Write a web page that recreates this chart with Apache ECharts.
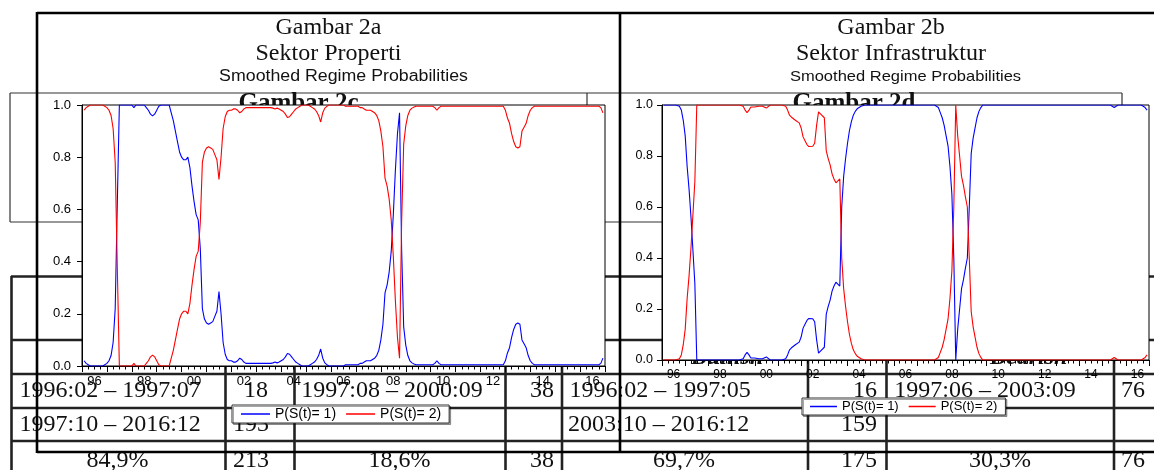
<!DOCTYPE html>
<html><head><meta charset="utf-8">
<script src="https://cdn.jsdelivr.net/npm/echarts@6/dist/echarts.min.js"></script>
<style>html,body{margin:0;padding:0;background:#fff}#c{width:1154px;height:470px}</style>
</head><body><div id="c"></div>
<script>
// ---------------- DATA ----------------
const startYear = 1996, startMonth = 2;           // first observation 1996:02, monthly to 2016:12
const seriesNames = ['P(S(t)= 1)', 'P(S(t)= 2)'];
const panelTitles = [['Gambar 2a', 'Sektor Properti'], ['Gambar 2b', 'Sektor Infrastruktur']];
const subTitle = 'Smoothed Regime Probabilities';
const hiddenBoxTitles = ['Gambar 2c', 'Gambar 2d'];
const hiddenHeaders = ['Bullish', 'Bearish'];
const yearLabelEvery = 2;

// Sektor Properti (Gambar 2a)
const propP1 = [
 0.02,0.01,0.005,0,0,0,0,0,0,0,0.005,
 0.01,0.02,0.04,0.09,0.22,0.62,1,1,1,1,1,1,
 1,0.99,1,1,1,1,1,0.99,0.98,0.965,0.958,0.965,
 0.98,0.995,1,1,1,1,1,0.97,0.94,0.9,0.86,0.82,
 0.8,0.79,0.79,0.8,0.76,0.69,0.63,0.58,0.56,0.45,0.22,0.18,
 0.165,0.16,0.165,0.17,0.19,0.21,0.285,0.2,0.09,0.045,0.025,0.02,
 0.02,0.015,0.015,0.02,0.03,0.025,0.015,0.01,0.01,0.01,0.01,0.01,
 0.01,0.01,0.01,0.01,0.01,0.01,0.01,0.01,0.012,0.015,0.012,0.015,
 0.02,0.025,0.035,0.048,0.045,0.035,0.025,0.015,0.01,0.005,0,0,
 0,0,0.005,0.01,0.015,0.025,0.04,0.065,0.03,0.012,0.005,0,
 0,0,0,0,0,0,0,0.005,0.005,0.005,0.005,0.005,
 0.005,0.005,0.01,0.01,0.015,0.02,0.02,0.02,0.025,0.03,0.04,0.06,
 0.1,0.16,0.28,0.31,0.36,0.44,0.58,0.75,0.89,0.97,0.45,0.15,
 0.08,0.04,0.02,0.012,0.008,0.005,0.005,0.005,0.005,0.005,0.005,0.005,
 0.005,0.005,0.01,0.02,0.01,0.005,0.005,0.005,0.005,0.005,0.005,0.005,
 0.005,0.005,0.005,0.005,0.005,0.005,0.005,0.005,0.005,0.005,0.005,0.005,
 0.005,0.005,0.005,0.005,0.005,0.005,0.005,0.005,0.005,0.005,0.005,0.005,
 0.02,0.05,0.07,0.11,0.14,0.16,0.165,0.16,0.1,0.085,0.07,0.04,
 0.02,0.01,0.005,0.005,0.005,0.005,0.005,0.005,0.005,0.005,0.005,0.005,
 0.005,0.005,0.005,0.005,0.005,0.005,0.005,0.005,0.005,0.005,0.005,0.005,
 0.005,0.005,0.005,0.005,0.005,0.005,0.005,0.005,0.005,0.005,0.01,0.03
];
const propP2 = [
 0.98,0.99,0.995,1,1,1,1,1,1,1,0.995,
 0.99,0.98,0.96,0.91,0.78,0.38,0,0,0,0,0,0,
 0,0.01,0,0,0,0,0,0.01,0.02,0.035,0.042,0.035,
 0.02,0.005,0,0,0,0,0,0.03,0.06,0.1,0.14,0.18,
 0.2,0.21,0.21,0.2,0.24,0.31,0.37,0.42,0.44,0.55,0.78,0.82,
 0.835,0.84,0.835,0.83,0.81,0.79,0.715,0.8,0.91,0.955,0.975,0.98,
 0.98,0.985,0.985,0.98,0.97,0.975,0.985,0.99,0.99,0.99,0.99,0.99,
 0.99,0.99,0.99,0.99,0.99,0.99,0.99,0.99,0.988,0.985,0.988,0.985,
 0.98,0.975,0.965,0.952,0.955,0.965,0.975,0.985,0.99,0.995,1,1,
 1,1,0.995,0.99,0.985,0.975,0.96,0.935,0.97,0.988,0.995,1,
 1,1,1,1,1,1,1,0.995,0.995,0.995,0.995,0.995,
 0.995,0.995,0.99,0.99,0.985,0.98,0.98,0.98,0.975,0.97,0.96,0.94,
 0.9,0.84,0.72,0.69,0.64,0.56,0.42,0.25,0.11,0.03,0.55,0.85,
 0.92,0.96,0.98,0.988,0.992,0.995,0.995,0.995,0.995,0.995,0.995,0.995,
 0.995,0.995,0.99,0.98,0.99,0.995,0.995,0.995,0.995,0.995,0.995,0.995,
 0.995,0.995,0.995,0.995,0.995,0.995,0.995,0.995,0.995,0.995,0.995,0.995,
 0.995,0.995,0.995,0.995,0.995,0.995,0.995,0.995,0.995,0.995,0.995,0.995,
 0.98,0.95,0.93,0.89,0.86,0.84,0.835,0.84,0.9,0.915,0.93,0.96,
 0.98,0.99,0.995,0.995,0.995,0.995,0.995,0.995,0.995,0.995,0.995,0.995,
 0.995,0.995,0.995,0.995,0.995,0.995,0.995,0.995,0.995,0.995,0.995,0.995,
 0.995,0.995,0.995,0.995,0.995,0.995,0.995,0.995,0.995,0.995,0.99,0.97
];
// Sektor Infrastruktur (Gambar 2b)
const infraP1 = [
 1,1,1,1,1,1,1,1,0.995,0.98,0.94,
 0.88,0.76,0.67,0.56,0.43,0.3,0,0,0,0,0,0,
 0,0,0,0,0,0,0,0,0,0,0,0,
 0,0,0,0,0,0,0.005,0.02,0.03,0.02,0.008,0.005,
 0.008,0.012,0.005,0.002,0.005,0.01,0.012,0.005,0,0,0,0,
 0,0,0,0,0.005,0.02,0.04,0.048,0.052,0.06,0.067,0.07,
 0.09,0.125,0.14,0.155,0.163,0.165,0.162,0.15,0.08,0.027,0.035,0.042,
 0.05,0.18,0.21,0.235,0.27,0.29,0.305,0.31,0.29,0.6,0.72,0.79,
 0.85,0.9,0.935,0.96,0.975,0.985,0.99,0.995,1,1,1,1,
 1,1,0.995,1,1,1,1,1,1,1,1,1,
 1,1,1,1,1,1,1,1,1,1,1,1,
 1,1,1,1,1,1,1,1,1,1,0.995,0.99,
 0.97,0.95,0.92,0.88,0.84,0.76,0.65,0.4,0,0.12,0.2,0.28,
 0.315,0.36,0.4,0.6,0.81,0.87,0.91,0.95,0.975,0.99,1,1,
 1,1,1,1,1,1,1,1,1,1,1,1,
 1,1,1,1,1,1,1,1,1,1,1,1,
 1,1,1,1,1,1,1,1,1,1,1,1,
 1,1,1,1,1,1,1,1,1,1,1,1,
 1,1,1,1,1,1,1,1,1,1,1,1,
 1,1,1,1,1,0.995,0.99,0.995,1,1,1,1,
 1,1,1,1,1,1,1,1,1,1,0.99,0.98
];
const infraP2 = [
 0,0,0,0,0,0,0,0,0.005,0.02,0.06,
 0.12,0.24,0.33,0.44,0.57,0.7,1,1,1,1,1,1,
 1,1,1,1,1,1,1,1,1,1,1,1,
 1,1,1,1,1,1,0.995,0.98,0.97,0.98,0.992,0.995,
 0.992,0.988,0.995,0.998,0.995,0.99,0.988,0.995,1,1,1,1,
 1,1,1,1,0.995,0.98,0.96,0.952,0.948,0.94,0.933,0.93,
 0.91,0.875,0.86,0.845,0.837,0.835,0.838,0.85,0.92,0.973,0.965,0.958,
 0.95,0.82,0.79,0.765,0.73,0.71,0.695,0.69,0.71,0.4,0.28,0.21,
 0.15,0.1,0.065,0.04,0.025,0.015,0.01,0.005,0,0,0,0,
 0,0,0.005,0,0,0,0,0,0,0,0,0,
 0,0,0,0,0,0,0,0,0,0,0,0,
 0,0,0,0,0,0,0,0,0,0,0.005,0.01,
 0.03,0.05,0.08,0.12,0.16,0.24,0.35,0.6,1,0.88,0.8,0.72,
 0.685,0.64,0.6,0.4,0.19,0.13,0.09,0.05,0.025,0.01,0,0,
 0,0,0,0,0,0,0,0,0,0,0,0,
 0,0,0,0,0,0,0,0,0,0,0,0,
 0,0,0,0,0,0,0,0,0,0,0,0,
 0,0,0,0,0,0,0,0,0,0,0,0,
 0,0,0,0,0,0,0,0,0,0,0,0,
 0,0,0,0,0,0.005,0.01,0.005,0,0,0,0,
 0,0,0,0,0,0,0,0,0,0,0.01,0.02
];
// Table behind the graphs
const tableRow1 = ['1996:02 \u2013 1997:07', '18', '1997:08 \u2013 2000:09', '38', '1996:02 \u2013 1997:05', '16', '1997:06 \u2013 2003:09', '76'];
const tableRow2 = ['1997:10 \u2013 2016:12', '193', '2003:10 \u2013 2016:12', '159'];
const tableRow3 = ['84,9%', '213', '18,6%', '38', '69,7%', '175', '30,3%', '76'];

// ---------------- CHART ----------------
const SERIF = '"Liberation Serif", "Times New Roman", serif';
const SANS = '"Liberation Sans", Arial, sans-serif';
function pairs(vals) { return vals.map((v, i) => [startYear + (startMonth - 1 + i) / 12, v]); }

const g = [];
const Z_BG = -10;
function line(x1, y1, x2, y2, w, c, z) {
  g.push({ type: 'line', shape: { x1, y1, x2, y2 }, style: { stroke: c, lineWidth: w }, z: z });
}
function text(t, x, y, font, align, z, extra) {
  g.push(Object.assign({ type: 'text', x, y, z: z,
    style: { text: t, font: font, fill: '#111', textAlign: align, align: align, textVerticalAlign: 'middle', verticalAlign: 'middle' } }, extra || {}));
}
// table lines (behind plots)
const TL = '#222';
[276.5, 340, 374, 408, 441].forEach(y => line(11, y, 1154, y, 2.6, TL, Z_BG));
[11.5, 225.5, 294.5, 505.5, 562, 808, 886.5, 1114].forEach(x => line(x, 276, x, 470, 2.6, TL, Z_BG));
// hidden "Gambar 2c / 2d" boxes
line(10, 93, 1122, 93, 1.2, '#333', Z_BG);
line(10, 93, 10, 222, 1.2, '#333', Z_BG);
line(587, 93, 587, 130, 1.2, '#333', Z_BG);
line(1122, 93, 1122, 130, 1.2, '#333', Z_BG);
line(10, 222, 100, 222, 1.2, '#333', Z_BG);
line(598, 222, 680, 222, 1.2, '#333', Z_BG);
text(hiddenBoxTitles[0], 298.5, 104, 'bold 25px ' + SERIF, 'center', Z_BG);
text(hiddenBoxTitles[1], 854, 104, 'bold 25px ' + SERIF, 'center', Z_BG);
text(hiddenHeaders[0], 691, 358, 'italic bold 24px ' + SERIF, 'left', Z_BG);
text(hiddenHeaders[1], 990, 358, 'italic bold 24px ' + SERIF, 'left', Z_BG);
// table text
const TF = '24px ' + SERIF;
const r1 = 391, r2 = 425, r3 = 461;
text(tableRow1[0], 19.5, r1, TF, 'left', Z_BG);
text(tableRow1[1], 268, r1, TF, 'right', Z_BG);
text(tableRow1[2], 392, r1, TF, 'center', Z_BG);
text(tableRow1[3], 554, r1, TF, 'right', Z_BG);
text(tableRow1[4], 569.5, r1, TF, 'left', Z_BG);
text(tableRow1[5], 877, r1, TF, 'right', Z_BG);
text(tableRow1[6], 985, r1, TF, 'center', Z_BG);
text(tableRow1[7], 1145, r1, TF, 'right', Z_BG);
text(tableRow2[0], 19.5, r2, TF, 'left', Z_BG);
text(tableRow2[1], 269, r2, TF, 'right', Z_BG);
text(tableRow2[2], 568, r2, TF, 'left', Z_BG);
text(tableRow2[3], 877, r2, TF, 'right', Z_BG);
text(tableRow3[0], 117.5, r3, TF, 'center', Z_BG);
text(tableRow3[1], 269, r3, TF, 'right', Z_BG);
text(tableRow3[2], 399.5, r3, TF, 'center', Z_BG);
text(tableRow3[3], 554, r3, TF, 'right', Z_BG);
text(tableRow3[4], 684, r3, TF, 'center', Z_BG);
text(tableRow3[5], 877, r3, TF, 'right', Z_BG);
text(tableRow3[6], 1000, r3, TF, 'center', Z_BG);
text(tableRow3[7], 1145, r3, TF, 'right', Z_BG);
// panel frames and titles
line(37, 13, 1154, 13, 2.6, '#000', 5);
line(37, 12, 37, 453, 2.6, '#000', 5);
line(620, 12, 620, 453, 2.6, '#000', 5);
line(37, 452, 1154, 452, 2.6, '#000', 5);
text(panelTitles[0][0], 328.5, 27.6, '24px ' + SERIF, 'center', 5);
text(panelTitles[0][1], 328.5, 53.6, '24px ' + SERIF, 'center', 5);
text(subTitle, 343.5, 77, '16px ' + SANS, 'center', 5, { scaleX: 1.11 });
text(panelTitles[1][0], 891, 27.6, '24px ' + SERIF, 'center', 5);
text(panelTitles[1][1], 891, 53.6, '24px ' + SERIF, 'center', 5);
text(subTitle, 905.5, 77, '15px ' + SANS, 'center', 5, { scaleX: 1.1 });

function tickAxis(gi) {
  return { type: 'value', gridIndex: gi, min: 1996, max: 2017, interval: 1, position: 'bottom',
    axisLine: { show: true, lineStyle: { color: '#000', width: 1 } },
    axisTick: { show: true, length: 6, lineStyle: { color: '#000' } },
    minorTick: { show: true, splitNumber: 4, length: 3.5, lineStyle: { color: '#000' } },
    axisLabel: { show: false }, splitLine: { show: false }, minorSplitLine: { show: false } };
}
function labelAxis(gi, fs) {
  return { type: 'value', gridIndex: gi, min: 1996, max: 2017, interval: 0.5, position: 'bottom',
    axisLine: { show: false }, axisTick: { show: false }, splitLine: { show: false },
    axisLabel: { show: true, margin: 9, color: '#000', fontFamily: SANS, fontSize: fs,
      formatter: v => { const r = v - yearLabelEvery * Math.floor(v / yearLabelEvery);
        return Math.abs(r - 0.5) < 1e-6 ? String(Math.floor(v)).slice(2) : ''; } } };
}
function yAx(gi, margin, fs) {
  return { type: 'value', gridIndex: gi, min: 0, max: 1, interval: 0.2,
    axisLine: { show: true, lineStyle: { color: '#000' } },
    axisTick: { show: true, length: 5, lineStyle: { color: '#000' } },
    axisLabel: { margin: margin, color: '#000', fontFamily: SANS, fontSize: fs, formatter: v => v.toFixed(1) },
    splitLine: { show: false } };
}
function ser(name, data, color, xi, yi) {
  return { type: 'line', name, data: pairs(data), xAxisIndex: xi, yAxisIndex: yi, symbol: 'none',
    lineStyle: { color, width: 1.1 }, itemStyle: { color }, z: 3 };
}
const legendBase = { orient: 'horizontal', data: seriesNames, backgroundColor: '#fff', icon: 'rect',
  borderColor: '#333', borderWidth: 1, itemGap: 10, itemHeight: 1.5, selectedMode: false, z: 6,
  shadowColor: 'rgba(0,0,0,0.35)', shadowOffsetX: 1.5, shadowOffsetY: 1.5, shadowBlur: 0 };

const chart = echarts.init(document.getElementById('c'), null, { renderer: 'canvas' });
chart.setOption({
  animation: false,
  backgroundColor: '#fff',
  grid: [
    { left: 82, top: 105, width: 523, height: 261, show: true, backgroundColor: '#fff', borderColor: '#000', borderWidth: 1 },
    { left: 662, top: 105, width: 487, height: 255, show: true, backgroundColor: '#fff', borderColor: '#000', borderWidth: 1 }
  ],
  xAxis: [tickAxis(0), labelAxis(0, 13), tickAxis(1), labelAxis(1, 12)],
  yAxis: [yAx(0, 11, 13), yAx(1, 9, 12.5)],
  legend: [
    Object.assign({}, legendBase, { left: 232, top: 405, padding: [2, 8, 2, 9], itemWidth: 29,
      textStyle: { fontFamily: SANS, fontSize: 14, color: '#000' } }),
    Object.assign({}, legendBase, { left: 802, top: 398, padding: [2, 8, 2, 8], itemWidth: 27,
      textStyle: { fontFamily: SANS, fontSize: 13, color: '#000' } })
  ],
  series: [
    ser(seriesNames[0], propP1, '#0000ff', 0, 0),
    ser(seriesNames[1], propP2, '#ff0000', 0, 0),
    ser(seriesNames[0], infraP1, '#0000ff', 2, 1),
    ser(seriesNames[1], infraP2, '#ff0000', 2, 1)
  ],
  graphic: { elements: g }
});
</script></body></html>
